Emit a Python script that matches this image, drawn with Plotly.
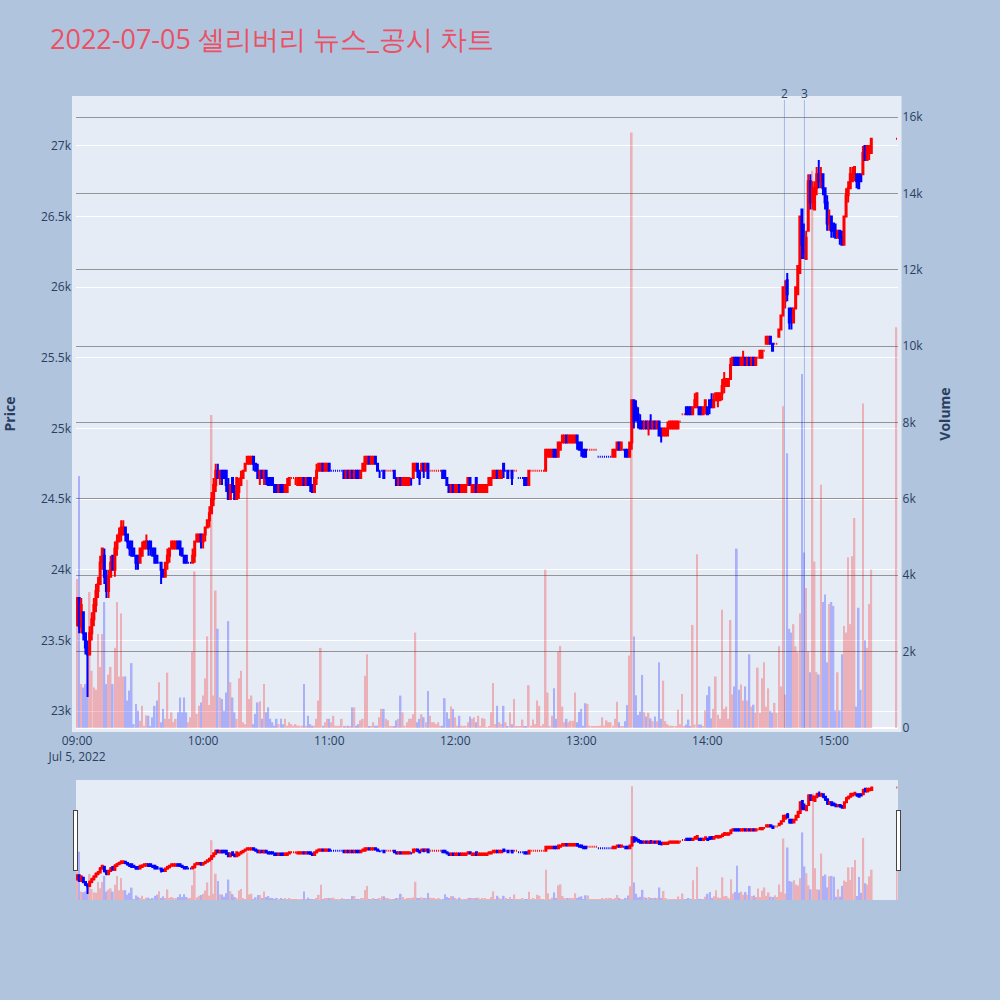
import pandas as pd
import plotly.graph_objects as go
from plotly.subplots import make_subplots

# ---------------- data (1-minute bars, 2022-07-05) ----------------
open_ = [
    23650, 23800, 23600, 23700, 23550, 23450, 23400, 23550, 23650, 23750,  # 09:00
    23850, 23900, 24050, 24100, 23950, 23850, 23950, 24100, 24000, 24150,  # 09:10
    24200, 24250, 24250, 24300, 24250, 24200, 24200, 24150, 24100, 24100,  # 09:20
    24050, 24100, 24150, 24150, 24200, 24200, 24150, 24150, 24100, 24050,  # 09:30
    24050, 24000, 23950, 24050, 24100, 24150, 24150, 24150, 24200, 24200,  # 09:40
    24150, 24100, 24100, 24050, 24050, 24050, 24100, 24200, 24200, 24250,  # 09:50
    24200, 24250, 24300, 24350, 24400, 24500, 24600, 24700, 24650, 24700,  # 10:00
    24700, 24700, 24600, 24500, 24650, 24550, 24500, 24550, 24600, 24650,  # 10:10
    24700, 24750, 24750, 24750, 24800, 24750, 24700, 24650, 24700, 24650,  # 10:20
    24700, 24650, 24650, 24650, 24600, 24600, 24550, 24600, 24600, 24550,  # 10:30
    24550, 24600, 24650, 24650, 24650, 24600, 24600, 24600, 24650, 24600,  # 10:40
    24650, 24650, 24600, 24550, 24650, 24700, 24700, 24750, 24700, 24700,  # 10:50
    24750, 24700, 24700, 24700, 24700, 24700, 24700, 24700, 24650, 24700,  # 11:00
    24650, 24700, 24650, 24700, 24700, 24650, 24700, 24700, 24750, 24800,  # 11:10
    24750, 24750, 24800, 24750, 24700, 24700, 24700, 24700, 24700, 24700,  # 11:20
    24700, 24700, 24650, 24600, 24650, 24600, 24600, 24600, 24600, 24600,  # 11:30
    24650, 24700, 24750, 24700, 24700, 24750, 24700, 24750, 24700, 24700,  # 11:40
    24700, 24700, 24700, 24700, 24700, 24700, 24650, 24600, 24550, 24600,  # 11:50
    24550, 24550, 24600, 24550, 24550, 24550, 24600, 24650, 24550, 24550,  # 12:00
    24650, 24550, 24550, 24550, 24550, 24550, 24600, 24600, 24650, 24650,  # 12:10
    24700, 24650, 24650, 24750, 24700, 24700, 24700, 24700, 24700, 24700,  # 12:20
    24650, 24650, 24650, 24650, 24650, 24600, 24700, 24700, 24700, 24700,  # 12:30
    24700, 24700, 24700, 24700, 24800, 24800, 24800, 24850, 24850, 24800,  # 12:40
    24850, 24900, 24900, 24950, 24900, 24900, 24900, 24900, 24950, 24900,  # 12:50
    24900, 24850, 24850, 24850, 24850, 24850, 24850, 24850, 24800, 24800,  # 13:00
    24800, 24800, 24800, 24800, 24800, 24800, 24800, 24850, 24900, 24850,  # 13:10
    24850, 24850, 24850, 24800, 24900, 25200, 25150, 25100, 25050, 25050,  # 13:20
    25000, 25050, 25000, 25050, 25000, 25050, 25000, 25050, 25000, 24950,  # 13:30
    24950, 24950, 25000, 25000, 25000, 25000, 25000, 25050, 25100, 25100,  # 13:40
    25150, 25150, 25150, 25100, 25150, 25150, 25150, 25150, 25100, 25150,  # 13:50
    25150, 25200, 25200, 25150, 25200, 25200, 25200, 25250, 25300, 25300,  # 14:00
    25300, 25350, 25450, 25500, 25500, 25500, 25450, 25450, 25500, 25450,  # 14:10
    25500, 25450, 25500, 25450, 25500, 25500, 25500, 25550, 25600, 25600,  # 14:20
    25650, 25600, 25600, 25600, 25650, 25700, 25800, 25900, 26050, 25850,  # 14:30
    25850, 25750, 25850, 25950, 26100, 26550, 26300, 26200, 26400, 26750,  # 14:40
    26600, 26550, 26700, 26800, 26750, 26800, 26700, 26600, 26450, 26500,  # 14:50
    26450, 26400, 26350, 26400, 26350, 26300, 26500, 26650, 26700, 26750,  # 15:00
    26800, 26800, 26800, 26800, 26800, 27000, 26900, 26950, 26950,         # 15:10
    27050,                                                                 # 15:30
]
high = [
    23800, 23800, 23800, 23700, 23550, 23500, 23600, 23700, 23800, 23900,
    23950, 24100, 24150, 24150, 24000, 24000, 24100, 24100, 24200, 24250,
    24300, 24350, 24350, 24300, 24250, 24200, 24200, 24150, 24100, 24100,
    24150, 24200, 24200, 24250, 24200, 24200, 24150, 24150, 24100, 24050,
    24050, 24000, 24050, 24150, 24150, 24200, 24200, 24200, 24200, 24200,
    24150, 24100, 24100, 24050, 24050, 24150, 24200, 24250, 24250, 24250,
    24250, 24300, 24350, 24450, 24550, 24650, 24750, 24750, 24700, 24700,
    24700, 24700, 24650, 24600, 24650, 24600, 24650, 24650, 24700, 24700,
    24750, 24800, 24800, 24800, 24800, 24750, 24750, 24700, 24700, 24700,
    24700, 24650, 24650, 24650, 24600, 24600, 24600, 24600, 24600, 24600,
    24650, 24650, 24650, 24650, 24650, 24650, 24650, 24650, 24650, 24650,
    24650, 24650, 24600, 24650, 24750, 24750, 24750, 24750, 24750, 24750,
    24750, 24700, 24700, 24700, 24700, 24700, 24700, 24700, 24700, 24700,
    24700, 24700, 24700, 24700, 24700, 24700, 24750, 24800, 24800, 24800,
    24800, 24800, 24800, 24750, 24700, 24700, 24700, 24700, 24700, 24700,
    24700, 24700, 24650, 24650, 24650, 24650, 24650, 24650, 24650, 24650,
    24750, 24750, 24750, 24700, 24750, 24750, 24750, 24750, 24700, 24700,
    24700, 24700, 24700, 24700, 24700, 24700, 24650, 24600, 24600, 24600,
    24600, 24600, 24600, 24600, 24600, 24600, 24650, 24650, 24600, 24600,
    24650, 24600, 24600, 24600, 24600, 24600, 24650, 24650, 24700, 24700,
    24700, 24700, 24700, 24750, 24700, 24700, 24700, 24700, 24700, 24700,
    24650, 24650, 24650, 24650, 24650, 24700, 24700, 24700, 24700, 24700,
    24700, 24700, 24700, 24850, 24850, 24850, 24850, 24850, 24850, 24900,
    24900, 24950, 24950, 24950, 24950, 24950, 24950, 24950, 24950, 24900,
    24900, 24850, 24850, 24850, 24850, 24850, 24850, 24850, 24800, 24800,
    24800, 24800, 24800, 24800, 24800, 24850, 24850, 24900, 24900, 24900,
    24850, 24850, 24850, 24900, 25200, 25200, 25200, 25150, 25100, 25050,
    25050, 25050, 25050, 25100, 25050, 25050, 25050, 25050, 25000, 25000,
    25000, 25050, 25050, 25050, 25050, 25050, 25050, 25050, 25100, 25100,
    25150, 25150, 25150, 25150, 25250, 25250, 25150, 25150, 25150, 25200,
    25150, 25200, 25250, 25250, 25250, 25250, 25250, 25350, 25400, 25350,
    25350, 25500, 25500, 25500, 25500, 25500, 25500, 25550, 25500, 25500,
    25500, 25500, 25500, 25500, 25500, 25550, 25550, 25550, 25650, 25650,
    25650, 25600, 25600, 25600, 25700, 25800, 26000, 26050, 26100, 25850,
    25850, 25850, 26000, 26150, 26500, 26550, 26450, 26400, 26800, 26800,
    26750, 26750, 26850, 26900, 26850, 26800, 26700, 26650, 26550, 26500,
    26450, 26450, 26400, 26400, 26400, 26500, 26700, 26750, 26850, 26850,
    26850, 26800, 26800, 26800, 27000, 27000, 27000, 27000, 27050,
    27050,
]
low = [
    23600, 23550, 23550, 23500, 23400, 23100, 23400, 23500, 23600, 23700,
    23800, 23900, 24000, 23900, 23800, 23800, 23950, 24000, 23950, 24100,
    24200, 24200, 24250, 24200, 24150, 24100, 24100, 24100, 24000, 24000,
    24050, 24100, 24150, 24150, 24100, 24100, 24100, 24050, 24050, 24050,
    23900, 23950, 23950, 24000, 24050, 24150, 24150, 24150, 24150, 24100,
    24100, 24050, 24050, 24050, 24050, 24050, 24050, 24200, 24200, 24150,
    24150, 24200, 24300, 24300, 24400, 24450, 24550, 24650, 24600, 24600,
    24650, 24550, 24500, 24500, 24550, 24500, 24500, 24500, 24600, 24650,
    24700, 24750, 24750, 24750, 24700, 24700, 24650, 24600, 24650, 24600,
    24600, 24600, 24600, 24600, 24550, 24550, 24550, 24550, 24550, 24550,
    24550, 24600, 24650, 24650, 24600, 24600, 24600, 24600, 24600, 24600,
    24600, 24550, 24550, 24550, 24600, 24700, 24700, 24700, 24700, 24700,
    24700, 24700, 24700, 24700, 24700, 24700, 24700, 24650, 24650, 24650,
    24650, 24650, 24650, 24650, 24650, 24650, 24700, 24700, 24750, 24750,
    24750, 24750, 24750, 24700, 24650, 24700, 24650, 24700, 24700, 24700,
    24700, 24650, 24600, 24600, 24600, 24600, 24600, 24600, 24600, 24600,
    24650, 24700, 24650, 24600, 24700, 24650, 24700, 24650, 24700, 24700,
    24700, 24700, 24700, 24700, 24650, 24650, 24600, 24550, 24550, 24550,
    24550, 24550, 24550, 24550, 24550, 24550, 24600, 24600, 24550, 24550,
    24550, 24550, 24550, 24550, 24550, 24550, 24600, 24600, 24650, 24650,
    24650, 24650, 24650, 24650, 24700, 24650, 24700, 24600, 24700, 24700,
    24650, 24650, 24650, 24600, 24600, 24600, 24700, 24700, 24700, 24700,
    24700, 24700, 24700, 24700, 24800, 24800, 24800, 24800, 24800, 24800,
    24850, 24900, 24900, 24900, 24900, 24900, 24900, 24900, 24850, 24850,
    24800, 24800, 24800, 24850, 24850, 24850, 24850, 24850, 24800, 24800,
    24800, 24800, 24800, 24800, 24800, 24800, 24800, 24850, 24850, 24850,
    24850, 24800, 24800, 24800, 24850, 25000, 25050, 25000, 25000, 25000,
    25000, 25000, 24950, 25000, 25000, 25000, 25000, 24950, 24900, 24950,
    24950, 24950, 25000, 25000, 25000, 25000, 25000, 25050, 25100, 25100,
    25100, 25100, 25100, 25100, 25150, 25150, 25100, 25100, 25100, 25100,
    25100, 25100, 25150, 25150, 25200, 25150, 25200, 25200, 25250, 25300,
    25300, 25350, 25450, 25450, 25450, 25450, 25450, 25450, 25450, 25450,
    25450, 25450, 25450, 25450, 25500, 25500, 25500, 25550, 25600, 25600,
    25600, 25550, 25600, 25600, 25650, 25700, 25800, 25850, 25900, 25700,
    25700, 25750, 25850, 25950, 26100, 26200, 26200, 26200, 26400, 26550,
    26550, 26550, 26650, 26700, 26700, 26650, 26550, 26400, 26400, 26350,
    26350, 26350, 26350, 26300, 26300, 26300, 26500, 26600, 26700, 26750,
    26750, 26700, 26700, 26750, 26800, 26900, 26900, 26900, 26950,
    27050,
]
close = [
    23800, 23600, 23750, 23550, 23450, 23400, 23550, 23650, 23750, 23850,
    23900, 24050, 24150, 23950, 23850, 23950, 24050, 24000, 24150, 24200,
    24250, 24300, 24300, 24250, 24200, 24150, 24100, 24100, 24050, 24050,
    24150, 24150, 24200, 24200, 24150, 24150, 24100, 24050, 24050, 24050,
    24000, 23950, 24050, 24100, 24150, 24200, 24200, 24200, 24150, 24150,
    24100, 24050, 24050, 24050, 24050, 24100, 24200, 24250, 24250, 24200,
    24250, 24300, 24350, 24400, 24500, 24600, 24700, 24650, 24700, 24650,
    24650, 24600, 24500, 24600, 24550, 24500, 24650, 24600, 24650, 24700,
    24750, 24800, 24800, 24800, 24750, 24700, 24650, 24700, 24650, 24700,
    24650, 24600, 24600, 24600, 24550, 24550, 24600, 24550, 24550, 24600,
    24600, 24650, 24650, 24650, 24650, 24650, 24650, 24650, 24600, 24650,
    24600, 24600, 24550, 24650, 24700, 24750, 24750, 24700, 24750, 24750,
    24700, 24700, 24700, 24700, 24700, 24700, 24700, 24650, 24700, 24650,
    24700, 24650, 24700, 24650, 24650, 24700, 24750, 24800, 24800, 24750,
    24800, 24800, 24750, 24700, 24700, 24700, 24650, 24700, 24700, 24700,
    24700, 24650, 24600, 24650, 24600, 24650, 24650, 24650, 24650, 24600,
    24750, 24750, 24700, 24650, 24750, 24700, 24750, 24650, 24700, 24700,
    24700, 24700, 24700, 24700, 24650, 24650, 24600, 24550, 24600, 24550,
    24600, 24600, 24550, 24600, 24600, 24600, 24650, 24600, 24600, 24600,
    24550, 24600, 24600, 24600, 24600, 24600, 24650, 24650, 24700, 24700,
    24650, 24700, 24700, 24700, 24700, 24650, 24700, 24650, 24700, 24700,
    24650, 24650, 24650, 24600, 24600, 24700, 24700, 24700, 24700, 24700,
    24700, 24700, 24700, 24850, 24850, 24850, 24850, 24800, 24800, 24900,
    24900, 24950, 24950, 24900, 24950, 24950, 24950, 24950, 24900, 24850,
    24850, 24800, 24800, 24850, 24850, 24850, 24850, 24850, 24800, 24800,
    24800, 24800, 24800, 24800, 24800, 24850, 24850, 24900, 24850, 24900,
    24850, 24800, 24800, 24900, 25200, 25050, 25100, 25050, 25000, 25000,
    25050, 25000, 25050, 25000, 25050, 25000, 25050, 24950, 24950, 25000,
    25000, 25000, 25050, 25050, 25050, 25050, 25050, 25050, 25100, 25100,
    25100, 25100, 25100, 25150, 25200, 25250, 25100, 25100, 25150, 25200,
    25100, 25150, 25150, 25200, 25250, 25250, 25250, 25300, 25350, 25350,
    25350, 25450, 25500, 25450, 25450, 25450, 25500, 25500, 25450, 25500,
    25450, 25500, 25450, 25500, 25500, 25550, 25550, 25550, 25650, 25650,
    25600, 25550, 25600, 25600, 25700, 25800, 26000, 26000, 25950, 25750,
    25800, 25850, 26000, 26150, 26500, 26300, 26250, 26350, 26750, 26600,
    26700, 26700, 26800, 26750, 26800, 26700, 26600, 26450, 26500, 26400,
    26400, 26350, 26400, 26350, 26300, 26500, 26650, 26700, 26800, 26800,
    26850, 26750, 26700, 26750, 26950, 26900, 27000, 27000, 27050,
    27050,
]
volume = [
    3900, 6600, 1150, 1060, 1150, 1900, 3560, 1500, 1060, 1000,
    2460, 1600, 2460, 3300, 1150, 1400, 1600, 1150, 2100, 3300,
    1350, 3000, 1350, 1350, 720, 980, 1700, 100, 630, 450,
    190, 580, 60, 330, 320, 30, 280, 580, 720, 1200,
    150, 500, 240, 1450, 240, 410, 150, 240, 410, 800,
    410, 800, 410, 150, 280, 2000, 4100, 370, 580, 670,
    850, 1300, 2400, 600, 8200, 850, 3600, 2600, 800, 760,
    450, 930, 2800, 1200, 800, 410, 240, 1300, 1500, 150,
    100, 6500, 760, 850, 100, 370, 670, 700, 240, 1150,
    410, 540, 240, 150, 60, 240, 100, 240, 100, 240,
    60, 150, 100, 60, 100, 60, 60, 60, 1150, 60,
    320, 100, 60, 60, 240, 720, 2100, 60, 150, 240,
    240, 150, 320, 60, 50, 60, 240, 50, 60, 60,
    40, 540, 540, 60, 100, 200, 240, 1370, 1930, 50,
    40, 150, 60, 60, 280, 500, 500, 240, 200, 40,
    30, 40, 200, 240, 850, 410, 60, 150, 240, 240,
    360, 2500, 150, 240, 360, 280, 150, 970, 320, 150,
    150, 100, 150, 50, 60, 780, 410, 240, 560, 500,
    280, 60, 320, 60, 40, 60, 150, 300, 240, 280,
    150, 320, 40, 260, 240, 20, 40, 410, 1180, 100,
    580, 150, 100, 580, 150, 40, 410, 100, 760, 30,
    40, 40, 220, 40, 40, 1120, 60, 220, 100, 720,
    580, 40, 100, 4150, 930, 40, 320, 1040, 240, 2000,
    2150, 560, 150, 240, 150, 190, 190, 930, 150, 420,
    500, 60, 650, 630, 60, 30, 30, 40, 30, 60,
    280, 60, 200, 150, 150, 60, 240, 690, 150, 40,
    40, 180, 600, 1900, 15600, 2400, 860, 340, 430, 1390,
    410, 300, 400, 250, 180, 300, 180, 1720, 240, 1240,
    180, 100, 60, 60, 40, 30, 480, 100, 890, 40,
    90, 220, 40, 2700, 90, 4550, 90, 90, 40, 460,
    860, 1090, 250, 500, 1350, 350, 240, 3100, 500, 560,
    240, 2830, 880, 1090, 4700, 1000, 1140, 720, 1090, 720,
    1930, 560, 610, 400, 1580, 400, 1300, 1720, 560, 1040,
    450, 400, 660, 400, 2140, 1090, 8430, 880, 7200, 2600,
    2500, 2720, 2140, 1980, 3000, 9270, 4600, 3670, 2000, 1460,
    14600, 4360, 1460, 1400, 6370, 3300, 3500, 1720, 3250, 3300,
    3200, 460, 1460, 460, 1930, 2670, 2500, 4470, 2720, 4500,
    5500, 560, 3150, 1000, 8500, 2300, 2100, 3250, 4150,
    10500,
]
news_times = ["2022-07-05 14:36:40", "2022-07-05 14:46:10"]
news_labels = ["2", "3"]
title_text = "2022-07-05 셀리버리 뉴스_공시 차트"

# minute timestamps 09:00 .. 15:18, then the 15:30 closing auction
times = list(pd.date_range("2022-07-05 09:00", "2022-07-05 15:18", freq="min")) + [pd.Timestamp("2022-07-05 15:30")]

vol_colors = ["red" if c >= o else "blue" for o, c in zip(open_, close)]

fig = make_subplots(specs=[[{"secondary_y": True}]])
fig.add_trace(
    go.Candlestick(
        x=times, open=open_, high=high, low=low, close=close,
        increasing=dict(line=dict(color="red"), fillcolor="red"),
        decreasing=dict(line=dict(color="blue"), fillcolor="blue"),
        showlegend=False, name="Price",
    ),
    secondary_y=False,
)
fig.add_trace(
    go.Bar(x=times, y=volume, marker=dict(color=vol_colors, line=dict(width=0)),
           opacity=0.25, showlegend=False, name="Volume"),
    secondary_y=True,
)

for t, lab in zip(news_times, news_labels):
    fig.add_shape(type="line", xref="x", yref="paper", x0=t, x1=t, y0=0, y1=1,
                  line=dict(color="royalblue", width=1), opacity=0.4)
    fig.add_annotation(x=t, y=1, xref="x", yref="paper", text=lab, showarrow=False,
                       yanchor="bottom", xanchor="center", yshift=-4,
                       font=dict(size=12, color="#2a3f5f"))

bg = "#E5ECF6"
fig.update_layout(
    width=1000, height=1000,
    paper_bgcolor="lightsteelblue",
    plot_bgcolor=bg,
    margin=dict(l=76, r=50, t=100, b=100, pad=4),
    title=dict(text=title_text, x=0.05, y=0.96, yanchor="middle",
               font=dict(size=27, color="#EB5064")),
    bargap=0.2,
    showlegend=False,
)
fig.update_xaxes(
    range=["2022-07-05 08:59:30", "2022-07-05 15:30:30"],
    rangeslider=dict(visible=True),
    automargin=False,
)
fig.update_yaxes(
    title=dict(text="<b>Price</b>", standoff=27), range=[22880, 27325],
    secondary_y=False, automargin=False,
)
fig.update_yaxes(
    title=dict(text="<b>Volume</b>", standoff=21), range=[0, 16450],
    secondary_y=True, automargin=False,
    showgrid=True, gridcolor="rgba(128,128,128,0.8)",
)

fig.write_html("out.html", config={"displayModeBar": False},
               post_script="document.body.style.margin='0';")
